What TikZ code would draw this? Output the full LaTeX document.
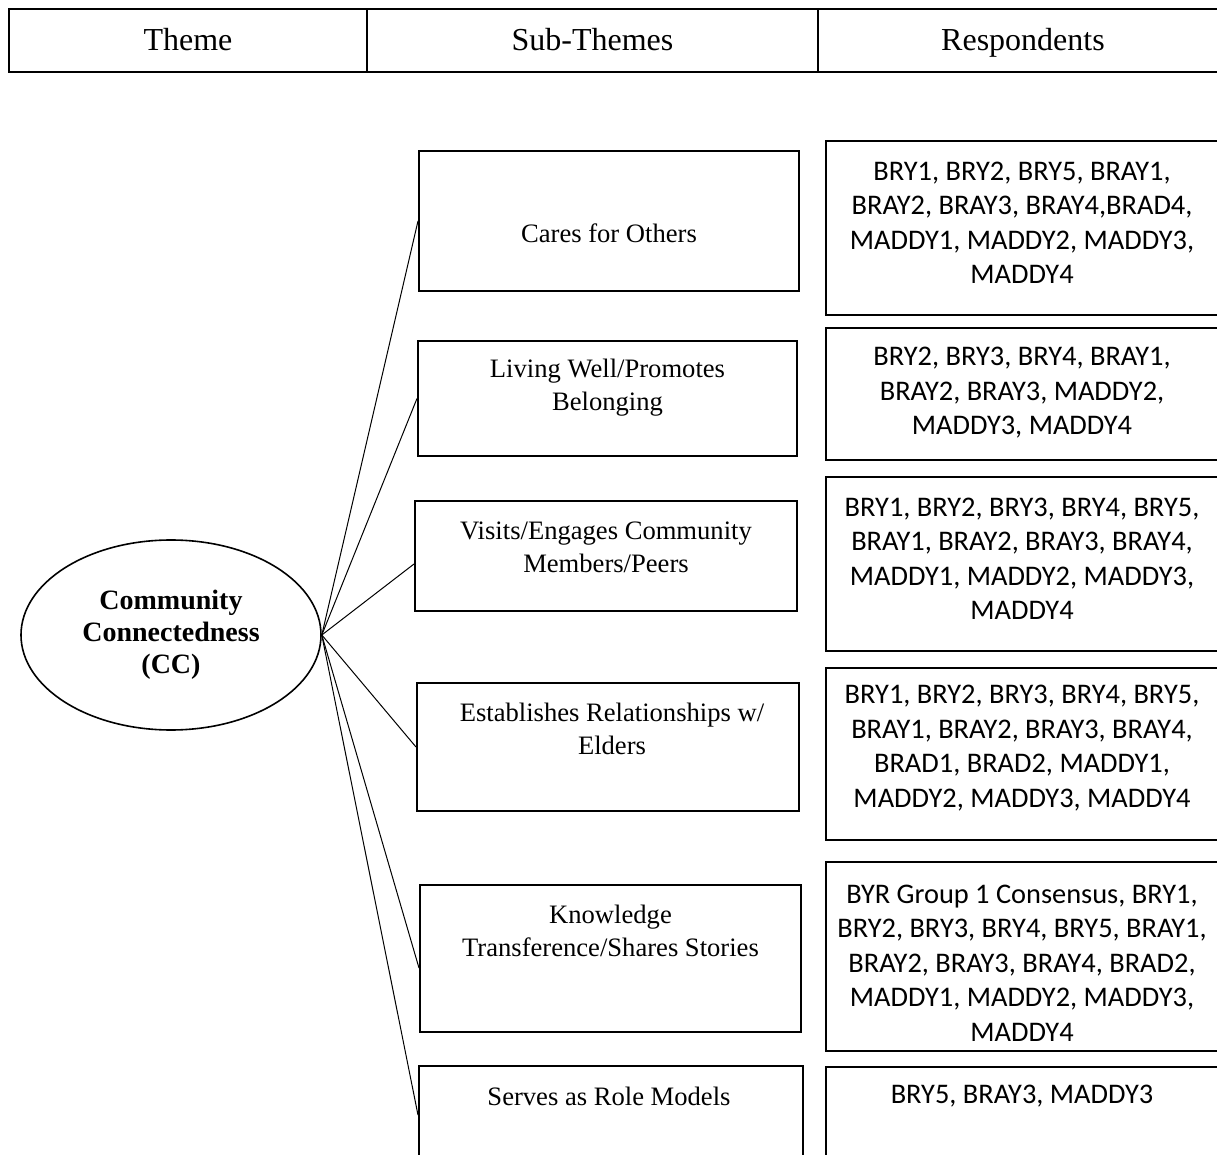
\documentclass[tikz,border=0pt]{standalone}
\usepackage{fontspec}
\setmainfont{Liberation Serif}
\newfontfamily\calibri{Carlito}
\usetikzlibrary{shapes.geometric}
\begin{document}
\begin{tikzpicture}[x=0.5pt,y=-0.5pt,
  pxsize/.style 2 args={minimum width=#1*0.5pt, minimum height=#2*0.5pt},
  cell/.style={draw, line width=0.6pt, inner sep=0pt,
    text height=10.2pt, text depth=0pt,
    font=\fontsize{16}{19}\selectfont},
  subbox/.style={draw, line width=1pt, inner sep=0pt},
  resbox/.style={draw, line width=1pt, inner sep=0pt},
  subtext/.style={align=center, inner sep=0pt,
    font=\fontsize{13.3}{16.5}\selectfont},
  restext/.style={align=center, inner sep=0pt,
    font=\calibri\fontsize{14.2}{17.25}\selectfont},
  theme/.style={ellipse, draw, line width=0.8pt, inner sep=0pt,
    align=center, font=\bfseries\fontsize{14}{16}\selectfont},
  link/.style={line width=0.5pt}]
\useasboundingbox (0,0) rectangle (1217,1155);
\clip (0,0) rectangle (1217,1155);

% header row
\node[cell, pxsize={358}{63}] (h1) at (188,40.5) {Theme};
\node[cell, pxsize={451}{63}] (h2) at (592.5,40.5) {Sub-Themes};
\node[cell, pxsize={410}{63}, line width=1pt] (h3) at (1023,40.5) {Respondents};

% central theme
\node[theme, pxsize={300}{190}] (cc) at (171,635)
  {Community\\Connectedness\\(CC)};

% sub-theme boxes
\node[subbox, pxsize={380}{140}] (s1) at (609,221) {};
\node[subbox, pxsize={379}{115}] (s2) at (607.5,398.5) {};
\node[subbox, pxsize={382}{110}] (s3) at (606,556) {};
\node[subbox, pxsize={382}{128}] (s4) at (608,747) {};
\node[subbox, pxsize={381}{147}] (s5) at (610.5,958.5) {};
\node[subbox, pxsize={384}{98}] (s6) at (611,1115) {};

\node[subtext] (s1t) at (609,233) {Cares for Others};
\node[subtext] (s2t) at (607.5,388) {Living Well/Promotes\\Belonging};
\node[subtext] (s3t) at (606,547) {Visits/Engages Community\\Members/Peers};
\node[subtext] (s4t) at (612,729) {Establishes Relationships w/\\Elders};
\node[subtext] (s5t) at (610.5,931) {Knowledge\\Transference/Shares Stories};
\node[subtext] (s6t) at (609,1096) {Serves as Role Models};

% respondent boxes
\node[resbox, pxsize={393}{174}] (r1) at (1022.5,228) {};
\node[resbox, pxsize={393}{132}] (r2) at (1022.5,394) {};
\node[resbox, pxsize={393}{174}] (r3) at (1022.5,564) {};
\node[resbox, pxsize={393}{172}] (r4) at (1022.5,754) {};
\node[resbox, pxsize={393}{189}] (r5) at (1022.5,956.5) {};
\node[resbox, pxsize={393}{110}] (r6) at (1022.5,1122) {};

\node[restext] (r1t) at (1022,223)
  {BRY1, BRY2, BRY5, BRAY1,\\BRAY2, BRAY3, BRAY4,BRAD4,\\MADDY1, MADDY2, MADDY3,\\MADDY4};
\node[restext] (r2t) at (1022,393)
  {BRY2, BRY3, BRY4, BRAY1,\\BRAY2, BRAY3, MADDY2,\\MADDY3, MADDY4};
\node[restext] (r3t) at (1022,559)
  {BRY1, BRY2, BRY3, BRY4, BRY5,\\BRAY1, BRAY2, BRAY3, BRAY4,\\MADDY1, MADDY2, MADDY3,\\MADDY4};
\node[restext] (r4t) at (1022,748)
  {BRY1, BRY2, BRY3, BRY4, BRY5,\\BRAY1, BRAY2, BRAY3, BRAY4,\\BRAD1, BRAD2, MADDY1,\\MADDY2, MADDY3, MADDY4};
\node[restext] (r5t) at (1022,963)
  {BYR Group 1 Consensus, BRY1,\\BRY2, BRY3, BRY4, BRY5, BRAY1,\\BRAY2, BRAY3, BRAY4, BRAD2,\\MADDY1, MADDY2, MADDY3,\\MADDY4};
\node[restext] (r6t) at (1022,1096) {BRY5, BRAY3, MADDY3};

% connectors from the theme to its sub-themes
\draw[link] (cc.east) -- (s1.west);
\draw[link] (cc.east) -- (s2.west);
\draw[link] (cc.east) -- ([yshift=-4pt]s3.west);
\draw[link] (cc.east) -- (s4.west);
\draw[link] (cc.east) -- ([yshift=-4.75pt]s5.west);
\draw[link] (cc.east) -- (s6.west);
\end{tikzpicture}
\end{document}
